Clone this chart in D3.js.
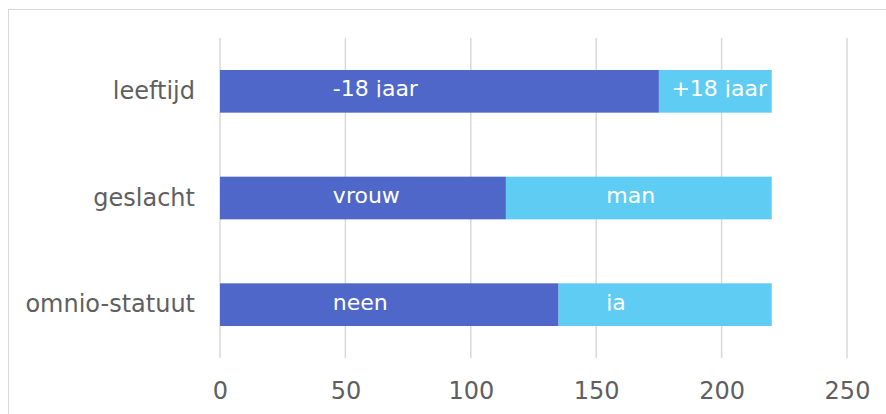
<!DOCTYPE html>
<html><head><meta charset="utf-8">
<script src="https://cdn.jsdelivr.net/npm/d3@7"></script>
<style>html,body{margin:0;padding:0;background:#fff;overflow:hidden}svg{display:block}</style>
</head><body>
<svg id="chart" width="886" height="414"></svg>
<script>
const categories = ["leeftijd", "geslacht", "omnio-statuut"];
const firstValues = [175, 114, 135];
const secondValues = [45, 106, 85];
const firstLabels = ["-18 jaar", "vrouw", "neen"];
const secondLabels = ["+18 jaar", "man", "ja"];
const firstLabelAt = [45, 45, 45];
const secondLabelAt = [180, 154, 154];
const ticks = [0, 50, 100, 150, 200, 250];

const svg = d3.select("#chart");
const font = "'DejaVu Sans', Verdana, sans-serif";
const colDark = "#4f67c8", colLight = "#5fcdf3", textCol = "#5f5f5f";

// frame
svg.append("rect").attr("x", 8.5).attr("y", 9.5).attr("width", 900).attr("height", 420)
  .attr("fill", "none").attr("stroke", "#d9d9d9").attr("stroke-width", 1);

const x = d3.scaleLinear().domain([0, 250]).range([220, 847]);
const y = d3.scaleBand().domain(categories).range([38, 358]).paddingInner(0.6).paddingOuter(0.3);

// gridlines
svg.append("g").selectAll("line").data(ticks).join("line")
  .attr("x1", d => x(d)).attr("x2", d => x(d)).attr("y1", 38).attr("y2", 358)
  .attr("stroke", "#d9d9d9").attr("stroke-width", 1.5);

// x axis
const xAxis = svg.append("g").attr("transform", "translate(0,358)")
  .call(d3.axisBottom(x).tickValues(ticks).tickSize(0).tickPadding(24));
xAxis.select(".domain").remove();
xAxis.selectAll("text").attr("font-family", font).attr("font-size", 24).attr("fill", textCol);

// y axis
const yAxis = svg.append("g").attr("transform", "translate(195,0)")
  .call(d3.axisLeft(y).tickSize(0).tickPadding(0));
yAxis.select(".domain").remove();
yAxis.selectAll("text").attr("font-family", font).attr("font-size", 24).attr("fill", textCol).attr("dy", "0.32em");

const rows = categories.map((c, i) => ({c, a: firstValues[i], b: secondValues[i], la: firstLabels[i], lb: secondLabels[i], pa: firstLabelAt[i], pb: secondLabelAt[i], i}));

const defs = svg.append("defs");
rows.forEach(r => {
  defs.append("clipPath").attr("id", "clip" + r.i).append("rect")
    .attr("x", 0).attr("y", y(r.c)).attr("width", 886).attr("height", y.bandwidth() / 2 + 6);
});

const bars = svg.append("g");
bars.selectAll("rect.a").data(rows).join("rect").attr("class", "a")
  .attr("x", x(0)).attr("y", d => y(d.c)).attr("width", d => x(d.a) - x(0)).attr("height", y.bandwidth())
  .attr("fill", colDark);
bars.selectAll("rect.b").data(rows).join("rect").attr("class", "b")
  .attr("x", d => x(d.a)).attr("y", d => y(d.c)).attr("width", d => x(d.a + d.b) - x(d.a)).attr("height", y.bandwidth())
  .attr("fill", colLight);

const labels = svg.append("g").attr("font-family", font).attr("font-size", 22).attr("fill", "#fff");
rows.forEach(r => {
  const g = labels.append("g").attr("clip-path", `url(#clip${r.i})`);
  const by = y(r.c) + y.bandwidth() / 2 + 5;
  g.append("text").attr("x", x(r.pa)).attr("y", by).text(r.la);
  g.append("text").attr("x", x(r.pb)).attr("y", by).text(r.lb);
});
</script>
</body></html>
